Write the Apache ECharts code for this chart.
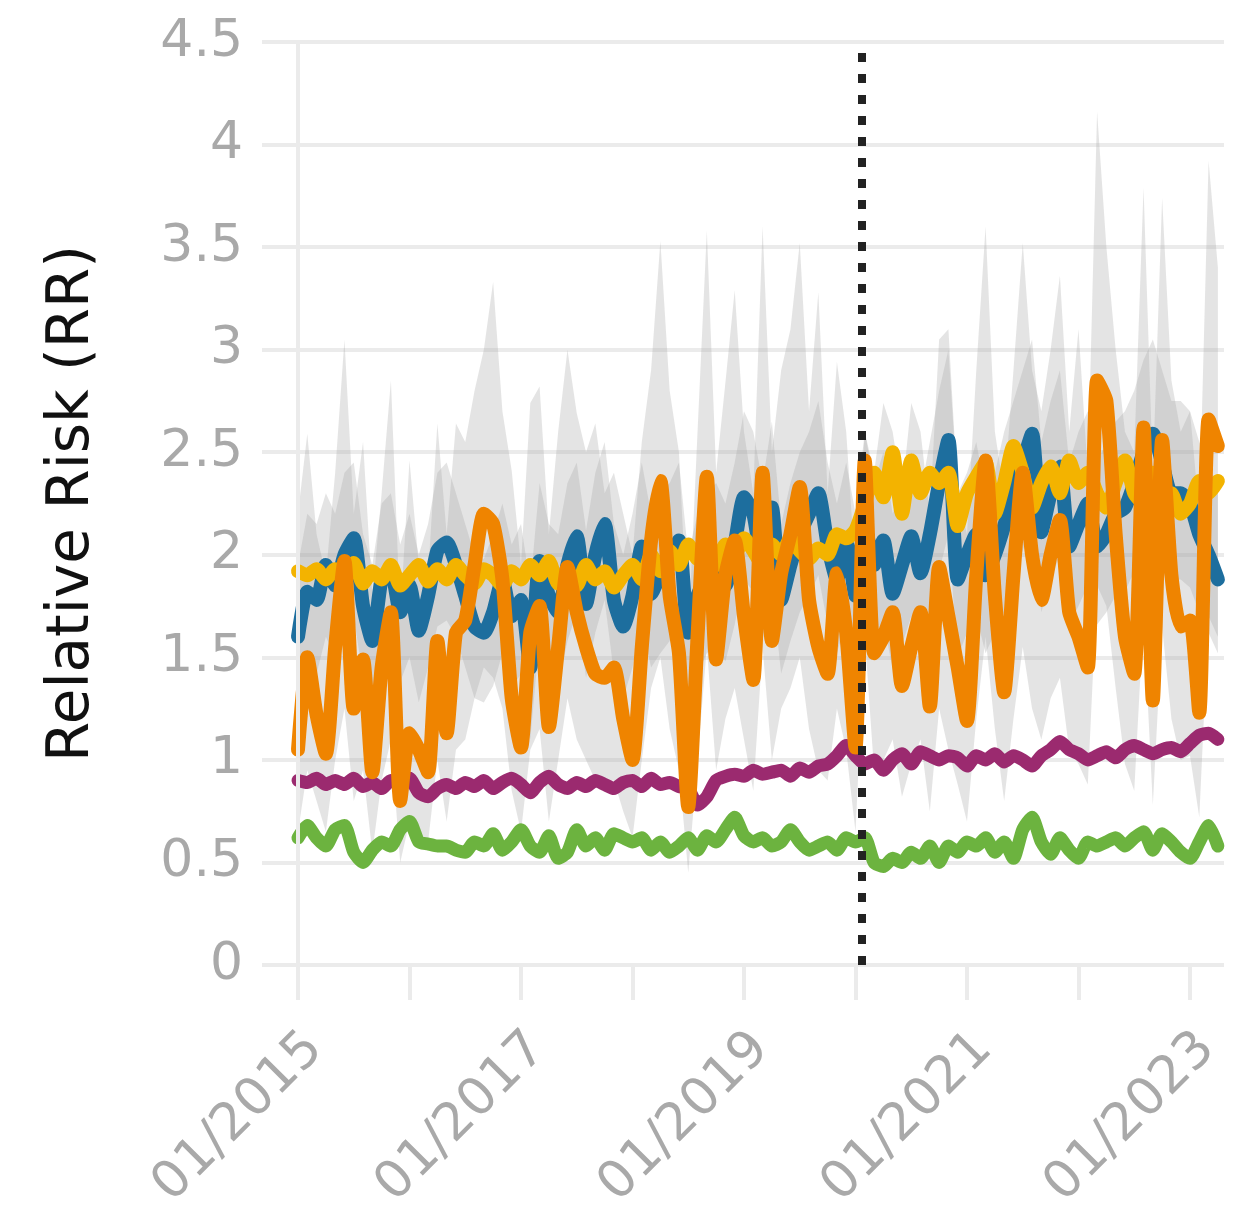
<!DOCTYPE html>
<html>
<head>
<meta charset="utf-8">
<script src="https://cdn.jsdelivr.net/npm/echarts@6/dist/echarts.min.js"></script>
<style>
  html, body { margin: 0; background: #fff; }
  #chart { width: 1244px; height: 1229px; }
</style>
</head>
<body>
<div id="chart"></div>
<script>
// monthly series, 01/2015 .. 04/2023
const startYear = 2015
const breakYear = 2020.06   // dotted line, early 2020
const yearTicks = [2015, 2016, 2017, 2018, 2019, 2020, 2021, 2022, 2023]

const blue = [
  1.60, 1.82, 1.78, 1.95, 1.85, 2.00, 2.08, 1.75, 1.58, 1.88,
  1.92, 1.72, 1.85, 1.63, 1.80, 2.02, 2.06, 1.95, 1.80, 1.65,
  1.62, 1.72, 1.88, 1.70, 1.78, 1.45, 1.97, 1.80, 1.72, 1.95,
  2.09, 1.76, 2.00, 2.15, 1.78, 1.65, 1.80, 2.04, 1.81, 1.90,
  1.95, 2.07, 1.62, 1.80, 1.90, 1.94, 1.85, 2.05, 2.28, 2.20,
  1.95, 2.23, 1.78, 1.95, 2.10, 2.20, 2.30, 2.05, 1.88, 2.06,
  1.80, 2.15, 1.95, 2.07, 1.81, 1.95, 2.09, 1.91, 2.10, 2.35,
  2.56, 1.88, 2.00, 2.10, 1.90, 2.00, 2.14, 2.30, 2.45, 2.59,
  2.11, 2.30, 2.43, 2.04, 2.15, 2.25, 2.04, 2.10, 2.20, 2.23,
  2.35, 2.50, 2.59, 2.45, 2.30, 2.30, 2.25, 2.10, 2.00, 1.88,
]
const blueLo = [
  1.25, 1.45, 1.42, 1.60, 1.50, 1.62, 1.70, 1.40, 1.22, 1.52,
  1.55, 1.38, 1.50, 1.28, 1.45, 1.65, 1.68, 1.60, 1.45, 1.30,
  1.28, 1.36, 1.52, 1.35, 1.42, 1.10, 1.60, 1.45, 1.36, 1.58,
  1.72, 1.40, 1.62, 1.78, 1.42, 1.30, 1.45, 1.66, 1.45, 1.52,
  1.58, 1.70, 1.25, 1.42, 1.52, 1.56, 1.48, 1.66, 1.88, 1.82,
  1.58, 1.84, 1.42, 1.58, 1.72, 1.80, 1.90, 1.66, 1.52, 1.68,
  1.42, 1.75, 1.56, 1.68, 1.44, 1.56, 1.70, 1.52, 1.70, 1.92,
  2.10, 1.50, 1.62, 1.70, 1.52, 1.62, 1.72, 1.88, 2.02, 2.15,
  1.72, 1.88, 2.00, 1.66, 1.75, 1.85, 1.66, 1.72, 1.80, 1.82,
  1.92, 2.05, 2.15, 2.02, 1.88, 1.88, 1.84, 1.72, 1.62, 1.52,
]
const blueHi = [
  1.95, 2.20, 2.15, 2.30, 2.20, 2.40, 2.45, 2.10, 1.95, 2.25,
  2.30, 2.05, 2.20, 2.00, 2.15, 2.40, 2.45, 2.30, 2.15, 2.00,
  1.98, 2.10, 2.25, 2.05, 2.15, 1.85, 2.35, 2.15, 2.10, 2.35,
  2.45, 2.12, 2.40, 2.55, 2.15, 2.00, 2.20, 2.45, 2.20, 2.30,
  2.35, 2.45, 2.00, 2.20, 2.30, 2.35, 2.25, 2.45, 2.70, 2.60,
  2.35, 2.65, 2.15, 2.35, 2.50, 2.60, 2.75, 2.45, 2.25, 2.45,
  2.20, 2.60, 2.35, 2.50, 2.20, 2.35, 2.50, 2.30, 2.55, 2.80,
  3.00, 2.30, 2.40, 2.55, 2.30, 2.40, 2.60, 2.75, 2.90, 3.05,
  2.55, 2.75, 2.90, 2.45, 2.60, 2.70, 2.45, 2.55, 2.65, 2.70,
  2.80, 2.95, 3.05, 2.90, 2.75, 2.75, 2.70, 2.55, 2.45, 2.30,
]

const yellow = [
  1.92, 1.90, 1.93, 1.88, 1.93, 1.90, 1.96, 1.86, 1.92, 1.88,
  1.95, 1.85, 1.90, 1.95, 1.87, 1.93, 1.88, 1.95, 1.90, 1.86,
  1.93, 1.90, 1.85, 1.92, 1.88, 1.95, 1.90, 1.97, 1.86, 1.92,
  1.85, 1.95, 1.88, 1.92, 1.84, 1.90, 1.95, 1.88, 2.00, 1.92,
  2.02, 1.95, 2.05, 1.98, 2.03, 1.95, 2.05, 2.00, 2.08, 2.02,
  1.95, 2.05, 2.00, 2.08, 2.02, 1.98, 2.03, 2.00, 2.10, 2.08,
  2.12, 2.25, 2.40, 2.28, 2.50, 2.20, 2.46, 2.30, 2.40, 2.35,
  2.40, 2.14, 2.30, 2.38, 2.45, 2.20, 2.35, 2.53, 2.40, 2.23,
  2.35, 2.43, 2.30, 2.46, 2.35, 2.40, 2.30, 2.23, 2.35, 2.46,
  2.30, 2.25, 2.40, 2.17, 2.30, 2.20, 2.25, 2.36, 2.30, 2.36,
]

const orange = [
  1.05, 1.50, 1.22, 1.03, 1.55, 1.97, 1.25, 1.49, 0.94, 1.45,
  1.72, 0.80, 1.13, 1.05, 0.94, 1.58, 1.13, 1.62, 1.68, 1.95,
  2.20, 2.15, 1.88, 1.30, 1.06, 1.62, 1.75, 1.16, 1.55, 1.94,
  1.72, 1.55, 1.42, 1.40, 1.45, 1.20, 1.00, 1.55, 2.07, 2.36,
  1.80, 1.52, 0.77, 1.60, 2.38, 1.49, 1.90, 2.07, 1.70, 1.39,
  2.40, 1.58, 1.91, 2.10, 2.33, 1.78, 1.55, 1.42, 1.91, 1.62,
  1.06, 2.46, 1.52, 1.60, 1.72, 1.36, 1.55, 1.72, 1.26, 1.94,
  1.70, 1.45, 1.19, 1.90, 2.46, 1.80, 1.33, 1.90, 2.40, 2.00,
  1.78, 2.00, 2.17, 1.72, 1.60, 1.45, 2.85, 2.75, 2.10, 1.60,
  1.42, 2.62, 1.29, 2.56, 1.90, 1.65, 1.68, 1.23, 2.66, 2.53,
]
const orangeLo = [
  0.65, 0.95, 0.80, 0.65, 1.00, 1.25, 0.80, 0.95, 0.55, 0.90,
  1.10, 0.50, 0.70, 0.65, 0.60, 1.00, 0.70, 1.05, 1.10, 1.30,
  1.45, 1.40, 1.25, 0.85, 0.65, 1.05, 1.15, 0.70, 1.00, 1.30,
  1.10, 1.00, 0.90, 0.90, 0.90, 0.75, 0.62, 1.00, 1.35, 1.50,
  1.15, 0.95, 0.45, 1.00, 1.55, 0.95, 1.20, 1.35, 1.10, 0.85,
  1.55, 1.00, 1.25, 1.35, 1.50, 1.15, 0.95, 0.90, 1.25, 1.05,
  0.65, 1.60, 0.95, 1.00, 1.10, 0.82, 0.98, 1.10, 0.75, 1.25,
  1.05, 0.88, 0.70, 1.20, 1.60, 1.15, 0.80, 1.20, 1.55, 1.25,
  1.10, 1.30, 1.40, 1.05, 0.98, 0.88, 1.85, 1.75, 1.35, 0.98,
  0.85, 1.70, 0.78, 1.65, 1.20, 1.00, 1.02, 0.72, 1.70, 1.60,
]
const orangeHi = [
  2.20, 2.59, 2.10, 1.90, 2.40, 3.05, 2.20, 2.55, 1.80, 2.30,
  2.85, 1.70, 2.46, 1.95, 1.90, 2.64, 2.10, 2.64, 2.55, 2.80,
  3.00, 3.33, 2.70, 2.41, 1.95, 2.74, 2.82, 2.10, 2.60, 3.00,
  2.69, 2.50, 2.64, 2.30, 2.40, 2.20, 2.00, 2.55, 2.90, 3.53,
  2.80, 2.50, 1.60, 2.60, 3.58, 2.40, 2.84, 3.29, 2.60, 2.30,
  3.60, 2.50, 2.90, 3.10, 3.52, 2.70, 3.28, 2.30, 2.94, 2.60,
  1.90, 2.60, 2.40, 2.74, 2.60, 2.30, 2.74, 2.60, 2.20, 3.05,
  3.10, 2.30, 2.10, 2.90, 3.60, 2.60, 2.30, 2.90, 3.52, 2.90,
  2.70, 3.00, 3.36, 2.60, 3.10, 2.40, 4.16, 3.50, 3.00, 2.60,
  2.50, 3.79, 2.40, 3.74, 2.85, 2.60, 2.70, 2.20, 3.92, 3.40,
]

const purple = [
  0.90, 0.89, 0.91, 0.88, 0.90, 0.88, 0.91, 0.87, 0.89, 0.86,
  0.90, 0.88, 0.91, 0.84, 0.82, 0.86, 0.88, 0.86, 0.89, 0.87,
  0.90, 0.86, 0.89, 0.91, 0.88, 0.84, 0.89, 0.92, 0.88, 0.86,
  0.89, 0.87, 0.90, 0.88, 0.86, 0.89, 0.90, 0.87, 0.91, 0.88,
  0.89, 0.87, 0.86, 0.78, 0.82, 0.90, 0.92, 0.93, 0.92, 0.95,
  0.93, 0.94, 0.95, 0.92, 0.96, 0.94, 0.97, 0.98, 1.02, 1.07,
  1.02, 0.98, 1.00, 0.95, 1.00, 1.03, 0.98, 1.04, 1.02, 1.00,
  1.02, 1.01, 0.97, 1.02, 1.00, 1.03, 0.99, 1.02, 1.00, 0.97,
  1.02, 1.05, 1.09, 1.05, 1.03, 1.00, 1.02, 1.04, 1.01, 1.05,
  1.07, 1.05, 1.03, 1.05, 1.06, 1.04, 1.08, 1.12, 1.13, 1.10,
]

const green = [
  0.62, 0.68, 0.62, 0.58, 0.66, 0.68, 0.55, 0.50, 0.56, 0.60,
  0.58, 0.66, 0.70, 0.60, 0.59, 0.58, 0.58, 0.56, 0.55, 0.60,
  0.58, 0.64, 0.56, 0.60, 0.66, 0.58, 0.55, 0.63, 0.52, 0.55,
  0.66, 0.58, 0.62, 0.56, 0.64, 0.62, 0.60, 0.62, 0.56, 0.60,
  0.55, 0.58, 0.62, 0.56, 0.63, 0.60, 0.66, 0.72, 0.63, 0.60,
  0.62, 0.58, 0.60, 0.66, 0.60, 0.56, 0.58, 0.60, 0.56, 0.62,
  0.60, 0.62, 0.50, 0.48, 0.52, 0.50, 0.55, 0.52, 0.58, 0.50,
  0.58, 0.55, 0.60, 0.58, 0.62, 0.55, 0.60, 0.52, 0.66, 0.72,
  0.60, 0.54, 0.62, 0.56, 0.52, 0.60, 0.58, 0.60, 0.62, 0.58,
  0.62, 0.65, 0.56, 0.64, 0.60, 0.55, 0.52, 0.60, 0.68, 0.58,
]

const FONT = '"DejaVu Sans", sans-serif'
const GREY_TXT = '#a9a9a9'
const GRID_LINE = '#ebebeb'
const BAND = 'rgba(165,165,165,0.30)'

const t = blue.map((_, i) => startYear + i / 12)
const pts = (arr) => arr.map((v, i) => [t[i], v])

// confidence band as one filled polygon
function band(lo, hi) {
  return {
    type: 'custom', silent: true, z: 1,
    data: t.map((x, i) => [x, lo[i], hi[i]]),
    encode: { x: 0, y: [1, 2] },
    renderItem: (params, api) => {
      if (params.dataIndex !== 0) return null
      const up = t.map((x, i) => api.coord([x, hi[i]]))
      const down = t.map((x, i) => api.coord([x, lo[i]])).reverse()
      return { type: 'polygon', shape: { points: up.concat(down) }, style: { fill: BAND } }
    },
  }
}

function line(data, color, width) {
  return {
    type: 'line', data: pts(data), symbol: 'none', smooth: 0.2, silent: true, z: 3,
    lineStyle: { color, width, cap: 'round', join: 'round' },
  }
}

const px = 111.5          // pixels per year
const left0 = 262, top0 = 42, h0 = 923, w0 = 962
const tickLeft = 298, tickWidth = 8 * px
const labelShift = 17

const chart = echarts.init(document.getElementById('chart'), null, { renderer: 'canvas' })
chart.setOption({
  animation: false,
  textStyle: { fontFamily: FONT },
  grid: [
    { left: left0, top: top0, width: w0, height: h0 },
    { left: tickLeft, top: top0, width: tickWidth, height: h0 },
    { left: tickLeft + labelShift, top: top0, width: tickWidth, height: h0 },
  ],
  xAxis: [
    {
      type: 'value', gridIndex: 0,
      min: startYear - (tickLeft - left0) / px,
      max: startYear + (left0 + w0 - tickLeft) / px,
      axisLine: { show: false }, axisTick: { show: false },
      axisLabel: { show: false }, splitLine: { show: false },
    },
    {
      type: 'value', gridIndex: 1, min: yearTicks[0], max: yearTicks[yearTicks.length - 1], interval: 1,
      axisLine: { show: false },
      axisTick: { show: true, length: 35, lineStyle: { color: GRID_LINE, width: 4 } },
      axisLabel: { show: false }, splitLine: { show: false },
    },
    {
      type: 'value', gridIndex: 2, min: yearTicks[0], max: yearTicks[yearTicks.length - 1], interval: 2,
      axisLine: { show: false }, axisTick: { show: false }, splitLine: { show: false },
      axisLabel: {
        rotate: 45, margin: 76, color: GREY_TXT, fontSize: 52, fontFamily: FONT,
        formatter: (v) => '01/' + v,
      },
    },
  ],
  yAxis: [
    {
      type: 'value', gridIndex: 0, min: 0, max: 4.5, interval: 0.5,
      axisLine: { show: false }, axisTick: { show: false },
      splitLine: { lineStyle: { color: GRID_LINE, width: 4 } },
      axisLabel: { color: GREY_TXT, fontSize: 52, margin: 19, fontFamily: FONT },
      name: 'Relative Risk (RR)', nameLocation: 'middle', nameGap: 160, nameRotate: 90,
      nameTextStyle: { color: '#111', fontSize: 58, fontFamily: FONT },
    },
    { type: 'value', gridIndex: 1, min: 0, max: 4.5, show: false },
    { type: 'value', gridIndex: 2, min: 0, max: 4.5, show: false },
  ],
  series: [
    {
      type: 'line', data: [], z: 1, silent: true,
      markLine: {
        symbol: 'none', silent: true, label: { show: false },
        lineStyle: { color: GRID_LINE, width: 4, type: 'solid' },
        data: [{ xAxis: startYear }],
      },
    },
    band(orangeLo, orangeHi),
    band(blueLo, blueHi),
    line(green, '#6cb33f', 13),
    line(purple, '#9b2a6f', 13),
    line(blue, '#1d6e9e', 14),
    line(yellow, '#f3b300', 14),
    line(orange, '#ef8400', 14),
    {
      type: 'line', data: [], z: 10, silent: true,
      markLine: {
        symbol: 'none', silent: true, label: { show: false },
        lineStyle: { color: '#222', width: 8, type: [9, 12] },
        data: [{ xAxis: breakYear }],
      },
    },
  ],
})
</script>
</body>
</html>
